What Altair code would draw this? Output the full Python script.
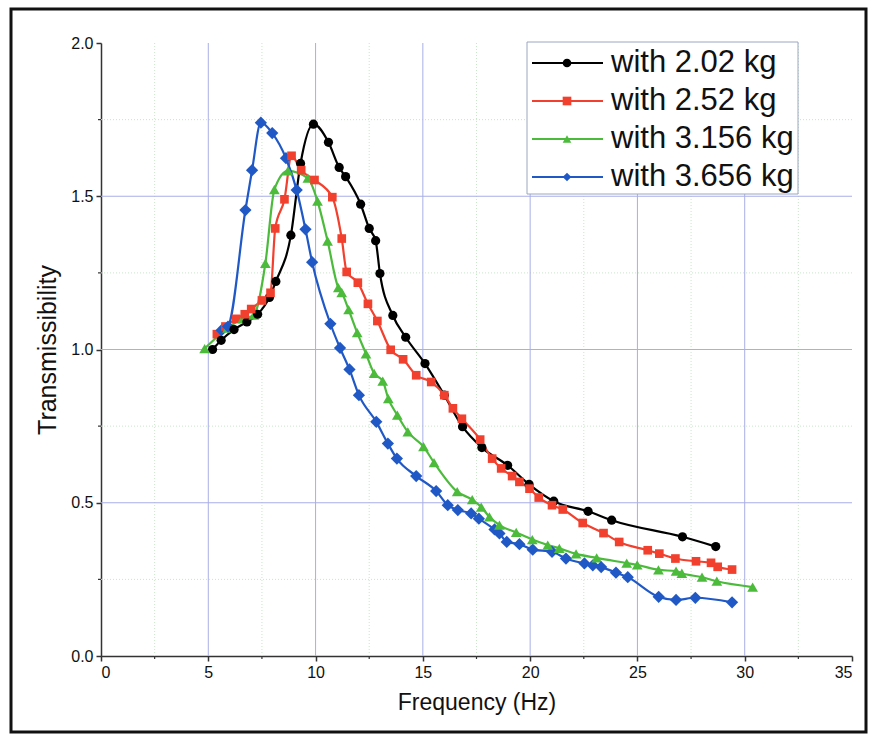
import altair as alt
import pandas as pd

# ---------------- data ----------------
names = ["with 2.02 kg", "with 2.52 kg", "with 3.156 kg", "with 3.656 kg"]
colors = ["#000000", "#f2402e", "#4cbb3c", "#2059c6"]
shapes = ["circle", "square", "triangle-up", "diamond"]
marker_sizes = [85, 75, 115, 150]

x_202 = [5.2, 5.6, 6.2, 6.8, 7.3, 7.85, 8.15, 8.85, 9.3, 9.9, 10.6, 11.1, 11.4, 12.1,
         12.5, 12.8, 13.0, 13.6, 14.2, 15.1, 16.0, 16.85, 17.75, 18.95, 19.95, 21.1,
         22.7, 23.8, 27.1, 28.65]
y_202 = [1.0, 1.03, 1.065, 1.09, 1.115, 1.17, 1.222, 1.373, 1.607, 1.735, 1.676, 1.594,
         1.564, 1.474, 1.395, 1.355, 1.248, 1.111, 1.04, 0.954, 0.851, 0.748, 0.68,
         0.622, 0.56, 0.505, 0.472, 0.443, 0.389, 0.357]

x_252 = [5.4, 5.8, 6.3, 6.7, 7.0, 7.5, 7.9, 8.12, 8.55, 8.88, 9.33, 9.95, 10.78, 11.22,
         11.45, 11.97, 12.44, 12.88, 13.5, 14.08, 14.69, 15.39, 16.0, 16.4, 16.82, 17.67,
         18.23, 18.65, 19.16, 19.5, 19.97, 20.4, 21.02, 21.52, 22.45, 23.42, 24.15, 25.48,
         26.02, 26.77, 27.73, 28.43, 28.74, 29.41]
y_252 = [1.05, 1.075, 1.10, 1.115, 1.132, 1.16, 1.185, 1.395, 1.49, 1.632, 1.585, 1.553,
         1.497, 1.362, 1.253, 1.218, 1.149, 1.093, 0.999, 0.968, 0.916, 0.894, 0.851,
         0.808, 0.774, 0.706, 0.644, 0.612, 0.587, 0.568, 0.546, 0.517, 0.492, 0.478,
         0.434, 0.401, 0.372, 0.345, 0.334, 0.318, 0.309, 0.304, 0.291, 0.282]

x_3156 = [4.83, 5.9, 6.6, 7.12, 7.66, 8.08, 8.71, 9.64, 10.09, 10.56, 11.06, 11.22, 11.54,
          11.94, 12.35, 12.73, 13.13, 13.39, 13.81, 14.3, 15.03, 15.52, 16.6, 17.3, 17.72,
          18.1, 18.57, 19.35, 20.1, 20.82, 21.36, 22.14, 23.1, 24.5, 24.99, 25.98, 26.8,
          27.07, 28.01, 28.7, 30.37]
y_3156 = [1.003, 1.07, 1.10, 1.112, 1.281, 1.522, 1.583, 1.559, 1.484, 1.354, 1.202, 1.186,
          1.13, 1.055, 0.986, 0.922, 0.897, 0.84, 0.786, 0.731, 0.683, 0.631, 0.536, 0.51,
          0.486, 0.454, 0.427, 0.403, 0.38, 0.362, 0.351, 0.333, 0.32, 0.303, 0.297, 0.281,
          0.277, 0.27, 0.257, 0.244, 0.225]

x_3656 = [5.62, 5.92, 6.73, 7.04, 7.45, 7.98, 8.62, 9.12, 9.53, 9.84, 10.69, 11.14, 11.58,
          12.02, 12.83, 13.37, 13.79, 14.69, 15.62, 16.16, 16.63, 17.25, 17.61, 18.34,
          18.57, 18.91, 19.5, 20.12, 21.02, 21.67, 22.53, 22.92, 23.31, 24.0, 24.55, 25.99,
          26.8, 27.7, 29.41]
y_3656 = [1.063, 1.075, 1.455, 1.585, 1.74, 1.706, 1.624, 1.52, 1.392, 1.285, 1.084, 1.005,
          0.935, 0.851, 0.764, 0.693, 0.644, 0.587, 0.538, 0.492, 0.476, 0.465, 0.448,
          0.413, 0.4, 0.372, 0.365, 0.347, 0.34, 0.318, 0.302, 0.296, 0.29, 0.272, 0.257,
          0.193, 0.183, 0.19, 0.175]

x_ticks = [0, 5, 10, 15, 20, 25, 30, 35]
y_ticks = [0.0, 0.5, 1.0, 1.5, 2.0]
x_major_grid = [5, 10, 15, 20, 25, 30]
y_major_grid = [0.5, 1.0, 1.5]
x_minor = [2.5, 7.5, 12.5, 17.5, 22.5, 27.5, 32.5]
y_minor = [0.25, 0.75, 1.25, 1.75]

# ---------------- build tables ----------------
series_xy = [(x_202, y_202), (x_252, y_252), (x_3156, y_3156), (x_3656, y_3656)]
rows = []
for name, ms, (xs, ys) in zip(names, marker_sizes, series_xy):
    for i, (a, b) in enumerate(zip(xs, ys)):
        rows.append({"series": name, "f": a, "t": b, "i": i, "ms": ms})
df = pd.DataFrame(rows)

W, H = 751, 613
FONT = "Liberation Sans"

xscale = alt.Scale(domain=[0, 35], nice=False, zero=False)
yscale = alt.Scale(domain=[0, 2.0], nice=False)
cscale = alt.Scale(domain=names, range=colors)
sscale = alt.Scale(domain=names, range=shapes)

# grids
gx = alt.Chart(pd.DataFrame({"v": x_major_grid})).mark_rule(
    color="#a9aee6", strokeWidth=1).encode(
    x=alt.X("v:Q", scale=xscale), y=alt.value(0), y2=alt.value(H))
gy = alt.Chart(pd.DataFrame({"v": y_major_grid})).mark_rule(
    color="#a9aee6", strokeWidth=1).encode(
    y=alt.Y("v:Q", scale=yscale), x=alt.value(0), x2=alt.value(W))
mgx = alt.Chart(pd.DataFrame({"v": x_minor})).mark_rule(
    color="#c9e6c9", strokeWidth=1, strokeDash=[1, 2]).encode(
    x=alt.X("v:Q", scale=xscale), y=alt.value(0), y2=alt.value(H))
mgy = alt.Chart(pd.DataFrame({"v": y_minor})).mark_rule(
    color="#c9e6c9", strokeWidth=1, strokeDash=[1, 2]).encode(
    y=alt.Y("v:Q", scale=yscale), x=alt.value(0), x2=alt.value(W))
# minor ticks
mtx = alt.Chart(pd.DataFrame({"v": x_minor})).mark_rule(
    color="#333333", strokeWidth=1.2).encode(
    x=alt.X("v:Q", scale=xscale), y=alt.value(H), y2=alt.value(H + 3))
mty = alt.Chart(pd.DataFrame({"v": y_minor})).mark_rule(
    color="#333333", strokeWidth=1.2).encode(
    y=alt.Y("v:Q", scale=yscale), x=alt.value(-3), x2=alt.value(0))

base = alt.Chart(df).encode(
    x=alt.X("f:Q", scale=xscale,
            axis=alt.Axis(values=x_ticks, title="Frequency (Hz)", format="d",
                          grid=False, tickSize=5, labelPadding=3,
                          titlePadding=11)),
    y=alt.Y("t:Q", scale=yscale,
            axis=alt.Axis(values=y_ticks, title="Transmissibility", format=".1f",
                          grid=False, tickSize=5, labelPadding=3,
                          titlePadding=10, titleFontSize=25)),
    color=alt.Color("series:N", scale=cscale, legend=None),
    order="i:Q",
)
lines = base.mark_line(strokeWidth=2.2, interpolate="monotone")
points = base.mark_point(filled=True, opacity=1).encode(
    shape=alt.Shape("series:N", scale=sscale, legend=None),
    size=alt.Size("ms:Q", scale=None, legend=None))

# legend (drawn from the series lists)
leg_df = pd.DataFrame({"series": names, "row": list(range(len(names)))})
lrow = alt.Y("row:Q", scale=alt.Scale(domain=[0, 3], range=[20, 134]), axis=None)
leg_box = alt.Chart(pd.DataFrame({"a": [0]})).mark_rect(
    fill="white", stroke="#9aa6bf", strokeWidth=1).encode(
    x=alt.value(426), x2=alt.value(697), y=alt.value(-1), y2=alt.value(151))
leg_line = alt.Chart(leg_df).mark_rule(strokeWidth=2.2).encode(
    y=lrow, x=alt.value(431), x2=alt.value(502),
    color=alt.Color("series:N", scale=cscale, legend=None))
leg_pt = alt.Chart(leg_df).mark_point(filled=True, size=75, opacity=1).encode(
    y=lrow, x=alt.value(466),
    color=alt.Color("series:N", scale=cscale, legend=None),
    shape=alt.Shape("series:N", scale=sscale, legend=None))
leg_txt = alt.Chart(leg_df).mark_text(
    align="left", baseline="middle", fontSize=31, font=FONT, color="#111111").encode(
    y=lrow, x=alt.value(510), text="series:N")
legend = alt.layer(leg_box, leg_line, leg_pt, leg_txt)

frame = alt.Chart(pd.DataFrame({"a": [0]})).mark_rect(
    fill=None, stroke="#111111", strokeWidth=3).encode(
    x=alt.value(-90), x2=alt.value(765), y=alt.value(-34), y2=alt.value(689))

main = alt.layer(mgx, mgy, gx, gy, mtx, mty, lines, points)

chart = alt.layer(main, legend, frame).resolve_scale(y="independent").properties(
    width=W, height=H,
    autosize=alt.AutoSizeParams(type="none"),
    padding={"left": 101, "top": 43, "right": 23, "bottom": 84},
    background="white",
).configure_view(stroke=None).configure_axis(
    domainColor="#333333", domainWidth=1.5, tickColor="#333333", tickWidth=1.5,
    labelFont=FONT, labelFontSize=16, labelColor="#111111",
    titleFont=FONT, titleFontSize=23, titleFontWeight="normal", titleColor="#111111",
)

chart.save("out.html", embed_options={"renderer": "svg", "actions": False})
